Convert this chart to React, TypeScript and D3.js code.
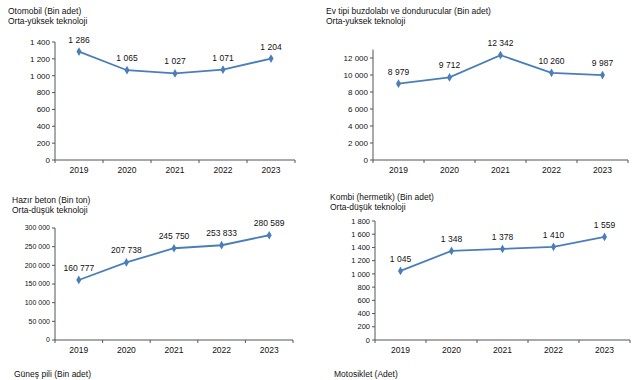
import React from "react";
import * as d3 from "d3";

const years = ["2019", "2020", "2021", "2022", "2023"];

const otomobilValues = [1286, 1065, 1027, 1071, 1204];
const otomobilTicks = [0, 200, 400, 600, 800, 1000, 1200, 1400];

const buzdolabiValues = [8979, 9712, 12342, 10260, 9987];
const buzdolabiTicks = [0, 2000, 4000, 6000, 8000, 10000, 12000];

const betonValues = [160777, 207738, 245750, 253833, 280589];
const betonTicks = [0, 50000, 100000, 150000, 200000, 250000, 300000];

const kombiValues = [1045, 1348, 1378, 1410, 1559];
const kombiTicks = [0, 200, 400, 600, 800, 1000, 1200, 1400, 1600, 1800];

const titles = [
  ["Otomobil (Bin adet)", "Orta-yüksek teknoloji"],
  ["Ev tipi buzdolabı ve dondurucular (Bin adet)", "Orta-yuksek teknoloji"],
  ["Hazır beton (Bin ton)", "Orta-düşük teknoloji"],
  ["Kombi (hermetik) (Bin adet)", "Orta-düşük teknoloji"],
];
const footers = ["Güneş pili (Bin adet)", "Motosiklet (Adet)"];

const fmt = (v: number) => d3.format(",")(v).replace(/,/g, " ");

const FONT = "'Liberation Sans', Arial, sans-serif";
const LINE = "#4a7ebb";

type PanelProps = {
  values: number[];
  ticks: number[];
  domainMax: number;
  title: string[];
  tx: number;
  ty: number;
  x0: number;
  x1: number;
  yTop: number;
  yBottom: number;
  tickFont: number;
};

function Panel(p: PanelProps) {
  const x = d3.scaleBand<string>().domain(years).range([p.x0, p.x1]);
  const y = d3.scaleLinear().domain([0, p.domainMax]).range([p.yBottom, p.yTop]);
  const cx = (d: string) => (x(d) as number) + x.bandwidth() / 2;
  const line = d3
    .line<number>()
    .x((_, i) => cx(years[i]))
    .y((v) => y(v));
  const diamond = d3.symbol().type(d3.symbolDiamond).size(22)() as string;
  const boundaries = [p.x0, ...years.map((d) => (x(d) as number) + x.bandwidth())];
  return (
    <g fontFamily={FONT}>
      <text x={p.tx} y={p.ty} fontSize={8.5} fill="#111">{p.title[0]}</text>
      <text x={p.tx} y={p.ty + 9.5} fontSize={8.5} fill="#111">{p.title[1]}</text>
      <line x1={p.x0} x2={p.x0} y1={p.yTop} y2={p.yBottom} stroke="#555" strokeWidth={1} />
      {p.ticks.map((t) => (
        <g key={t}>
          <line x1={p.x0 - 3} x2={p.x0} y1={y(t)} y2={y(t)} stroke="#555" />
          <text x={p.x0 - 5} y={y(t)} dy="0.35em" textAnchor="end" fontSize={p.tickFont} fill="#111">
            {fmt(t)}
          </text>
        </g>
      ))}
      <line x1={p.x0} x2={p.x1} y1={p.yBottom} y2={p.yBottom} stroke="#555" />
      {boundaries.map((b, i) => (
        <line key={i} x1={b} x2={b} y1={p.yBottom} y2={p.yBottom + 3} stroke="#555" />
      ))}
      {years.map((d) => (
        <text key={d} x={cx(d)} y={p.yBottom + 10} dy="0.35em" textAnchor="middle" fontSize={8.5} fill="#111">
          {d}
        </text>
      ))}
      <path d={line(p.values) as string} fill="none" stroke={LINE} strokeWidth={1.8} />
      {p.values.map((v, i) => (
        <path key={i} d={diamond} transform={`translate(${cx(years[i])},${y(v)})`} fill={LINE} />
      ))}
      {p.values.map((v, i) => (
        <text key={"l" + i} x={cx(years[i])} y={y(v) - 9} textAnchor="middle" fontSize={8.5} fill="#111">
          {fmt(v)}
        </text>
      ))}
    </g>
  );
}

export default function App() {
  return (
    <svg width={641} height={380} style={{ position: "absolute", left: 0, top: 0, background: "#fff" }}>
      <rect width={641} height={380} fill="#fff" />
      <Panel values={otomobilValues} ticks={otomobilTicks} domainMax={1400} title={titles[0]}
        tx={8} ty={14} x0={55} x1={295} yTop={42} yBottom={160} tickFont={8} />
      <Panel values={buzdolabiValues} ticks={buzdolabiTicks} domainMax={13000} title={titles[1]}
        tx={326} ty={14} x0={373} x1={628} yTop={49.5} yBottom={160} tickFont={8} />
      <Panel values={betonValues} ticks={betonTicks} domainMax={300000} title={titles[2]}
        tx={12} ty={203} x0={55} x1={293} yTop={228} yBottom={340} tickFont={7} />
      <Panel values={kombiValues} ticks={kombiTicks} domainMax={1800} title={titles[3]}
        tx={330} ty={200} x0={375} x1={630} yTop={221} yBottom={340} tickFont={7.5} />
      <text x={14} y={377} fontFamily={FONT} fontSize={8.5} fill="#111">{footers[0]}</text>
      <text x={334} y={377} fontFamily={FONT} fontSize={8.5} fill="#111">{footers[1]}</text>
    </svg>
  );
}
